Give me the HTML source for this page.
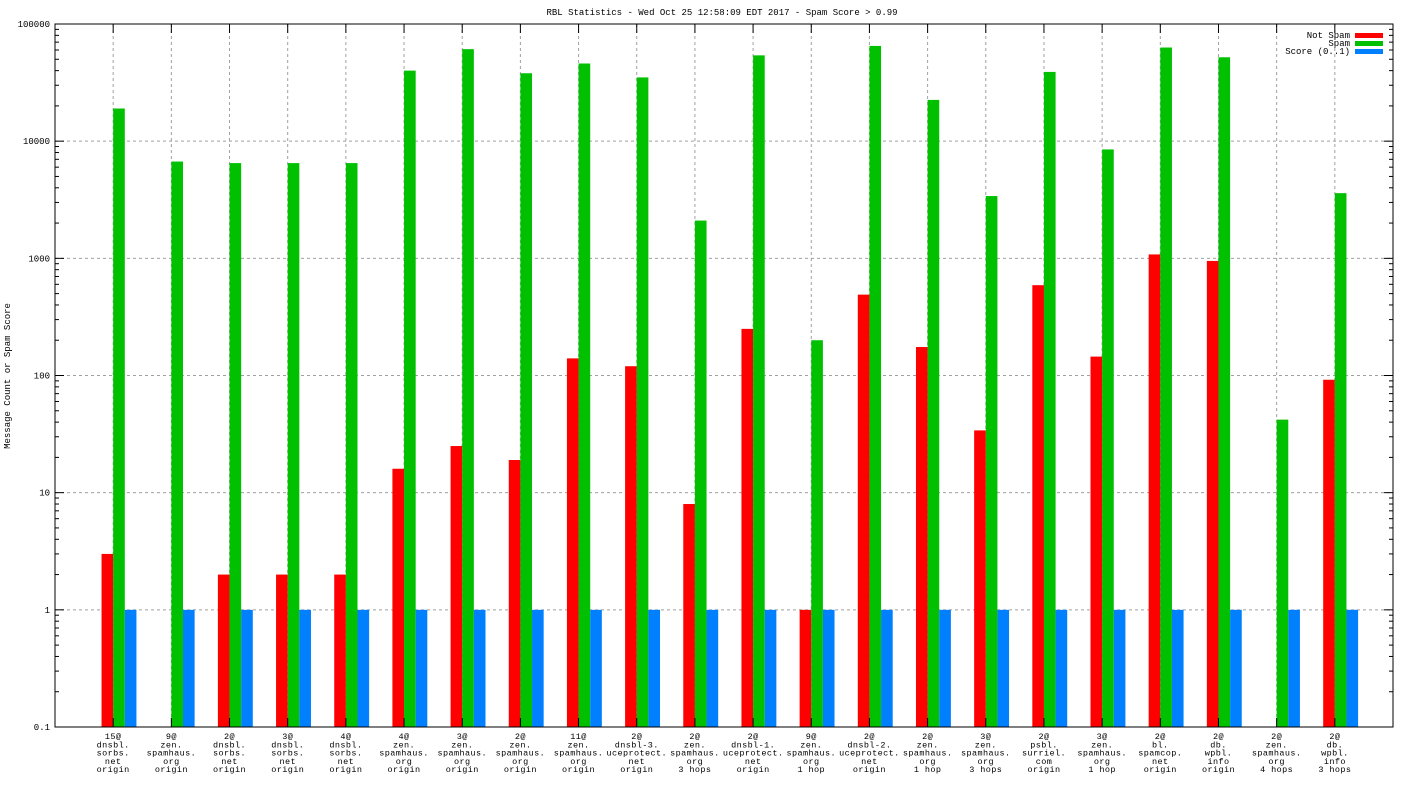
<!DOCTYPE html>
<html><head><meta charset="utf-8"><style>
body{margin:0;background:#fff}
svg{display:block}
text{font-family:"Liberation Mono",monospace;font-size:9px;fill:#000}
.xl{font-size:8.5px;letter-spacing:0.4px}
</style></head><body>
<svg id="chart" width="1408" height="792" xmlns="http://www.w3.org/2000/svg">
<text x="722" y="15" text-anchor="middle">RBL Statistics - Wed Oct 25 12:58:09 EDT 2017 - Spam Score &gt; 0.99</text>
<text transform="translate(10,376) rotate(-90)" text-anchor="middle">Message Count or Spam Score</text>
<g id="grid"></g><g id="bars"></g><g id="axes"></g><g id="labels"></g>
<g>
<text x="1350" y="38" text-anchor="end">Not Spam</text>
<rect x="1355" y="33" width="28" height="5" fill="#ff0000"/>
<text x="1350" y="46" text-anchor="end">Spam</text>
<rect x="1355" y="41" width="28" height="5" fill="#00c000"/>
<text x="1350" y="54" text-anchor="end">Score (0..1)</text>
<rect x="1355" y="49" width="28" height="5" fill="#0080ff"/>
</g>
</svg>
<script>
const categories=[["15@","dnsbl.","sorbs.","net","origin"],["9@","zen.","spamhaus.","org","origin"],["2@","dnsbl.","sorbs.","net","origin"],["3@","dnsbl.","sorbs.","net","origin"],["4@","dnsbl.","sorbs.","net","origin"],["4@","zen.","spamhaus.","org","origin"],["3@","zen.","spamhaus.","org","origin"],["2@","zen.","spamhaus.","org","origin"],["11@","zen.","spamhaus.","org","origin"],["2@","dnsbl-3.","uceprotect.","net","origin"],["2@","zen.","spamhaus.","org","3 hops"],["2@","dnsbl-1.","uceprotect.","net","origin"],["9@","zen.","spamhaus.","org","1 hop"],["2@","dnsbl-2.","uceprotect.","net","origin"],["2@","zen.","spamhaus.","org","1 hop"],["3@","zen.","spamhaus.","org","3 hops"],["2@","psbl.","surriel.","com","origin"],["3@","zen.","spamhaus.","org","1 hop"],["2@","bl.","spamcop.","net","origin"],["2@","db.","wpbl.","info","origin"],["2@","zen.","spamhaus.","org","4 hops"],["2@","db.","wpbl.","info","3 hops"]];
const notSpam=[3,0,2,2,2,16,25,19,140,120,8,250,1,490,175,34,590,145,1080,950,0,92];
const spam=[19000,6700,6500,6500,6500,40000,61000,38000,46000,35000,2100,54000,200,65000,22500,3400,39000,8500,63000,52000,42,3600];
const score=[1,1,1,1,1,1,1,1,1,1,1,1,1,1,1,1,1,1,1,1,1,1];
const yTicks=[0.1,1,10,100,1000,10000,100000];
const yTickLabels=["0.1","1","10","100","1000","10000","100000"];
const L=55,R=1393,T=24,B=727,NS="http://www.w3.org/2000/svg";
const step=(R-L)/23;
function y(v){return B-(Math.log10(v)+1)/6*(B-T);}
function x(i){return L+(i+1)*step;}
function mk(tag,attrs,parent){const e=document.createElementNS(NS,tag);for(const k in attrs)e.setAttribute(k,attrs[k]);document.getElementById(parent).appendChild(e);return e;}
yTicks.forEach((v,i)=>{
  const yy=y(v);
  if(i>0&&i<yTicks.length-1){const g=mk('line',{x1:L,x2:R,y1:yy,y2:yy,stroke:'#a0a0a0','stroke-dasharray':'3,3'},'grid');
  
  }
  mk('line',{x1:L,x2:L+9,y1:yy,y2:yy,stroke:'#000'},'axes');
  mk('line',{x1:R,x2:R-9,y1:yy,y2:yy,stroke:'#000'},'axes');
  if(i<yTicks.length-1)for(let m=2;m<10;m++){const my=y(v*m);mk('line',{x1:L,x2:L+4,y1:my,y2:my,stroke:'#000'},'axes');mk('line',{x1:R,x2:R-4,y1:my,y2:my,stroke:'#000'},'axes');}
  const t=mk('text',{x:L-5,y:yy+3,'text-anchor':'end'},'labels');t.textContent=yTickLabels[i];
  
  
});
categories.forEach((c,i)=>{
  const cx=x(i);
  mk('line',{x1:cx,x2:cx,y1:T,y2:B,stroke:'#a0a0a0','stroke-dasharray':'3,3'},'grid');
  mk('line',{x1:cx,x2:cx,y1:B,y2:B-9,stroke:'#000'},'axes');
  mk('line',{x1:cx,x2:cx,y1:T,y2:T+9,stroke:'#000'},'axes');
  const w=step*0.2;
  [[notSpam,'#ff0000',-w,'not-spam'],[spam,'#00c000',0,'spam'],[score,'#0080ff',w,'score']].forEach(s=>{
    const v=s[0][i];if(!(v>0.1))return;
    const r=mk('rect',{x:cx+s[2],y:y(v),width:w,height:B-y(v),fill:s[1]},'bars');
    
    
  });
  c.forEach((ln,j)=>{const t=mk('text',{x:cx,y:B+12+j*8.3,'text-anchor':'middle','class':'xl'},'labels');t.textContent=ln;
    
    });
});
const fr=mk('rect',{x:L,y:T,width:R-L,height:B-T,fill:'none',stroke:'#000'},'axes');


</script>
</body></html>
